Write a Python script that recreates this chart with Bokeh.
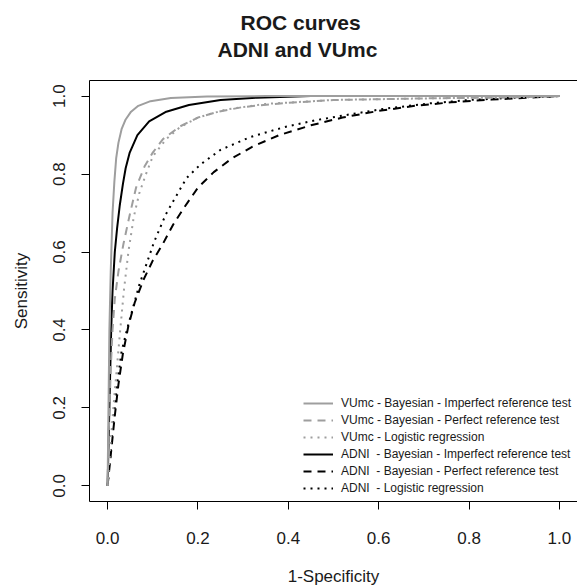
from bokeh.plotting import figure
from bokeh.models import (Range1d, FixedTicker, Legend, LegendItem, Title, LinearAxis,
                          NumeralTickFormatter)
from bokeh.embed import file_html
from bokeh.resources import INLINE

# ---- data ----
series_names = [
    "VUmc - Bayesian - Imperfect reference test",
    "VUmc - Bayesian - Perfect reference test",
    "VUmc - Logistic regression",
    "ADNI  - Bayesian - Imperfect reference test",
    "ADNI  - Bayesian - Perfect reference test",
    "ADNI  - Logistic regression",
]

vumc_imp_fpr = [0.0, 0.002, 0.004, 0.007, 0.011, 0.015, 0.019, 0.024, 0.031, 0.040, 0.052, 0.068, 0.095, 0.14, 0.22, 0.35, 1.0]
vumc_imp_tpr = [0.0, 0.20, 0.40, 0.55, 0.70, 0.78, 0.84, 0.88, 0.915, 0.94, 0.96, 0.975, 0.987, 0.995, 0.999, 1.0, 1.0]

vumc_perf_fpr = [0.0, 0.003, 0.007, 0.011, 0.016, 0.024, 0.035, 0.048, 0.063, 0.082, 0.10, 0.123, 0.16, 0.20, 0.245, 0.30, 0.39, 0.50, 0.70, 0.90, 1.0]
vumc_perf_tpr = [0.0, 0.15, 0.30, 0.40, 0.48, 0.55, 0.62, 0.69, 0.765, 0.82, 0.855, 0.89, 0.922, 0.945, 0.96, 0.972, 0.982, 0.99, 0.994, 0.997, 1.0]

vumc_log_fpr = [0.0, 0.006, 0.015, 0.028, 0.036, 0.046, 0.058, 0.070, 0.085, 0.10, 0.13, 0.16, 0.20, 0.26, 0.35, 0.50, 0.70, 0.90, 1.0]
vumc_log_tpr = [0.0, 0.10, 0.23, 0.40, 0.50, 0.60, 0.69, 0.75, 0.80, 0.845, 0.89, 0.92, 0.945, 0.965, 0.98, 0.99, 0.994, 0.997, 1.0]

adni_imp_fpr = [0.0, 0.004, 0.008, 0.011, 0.016, 0.021, 0.027, 0.034, 0.040, 0.049, 0.066, 0.092, 0.13, 0.18, 0.25, 0.33, 0.45, 1.0]
adni_imp_tpr = [0.0, 0.20, 0.40, 0.50, 0.60, 0.66, 0.72, 0.775, 0.815, 0.855, 0.90, 0.935, 0.96, 0.977, 0.99, 0.996, 1.0, 1.0]

adni_perf_fpr = [0.0, 0.008, 0.016, 0.024, 0.034, 0.046, 0.060, 0.080, 0.100, 0.122, 0.145, 0.170, 0.20, 0.235, 0.275, 0.32, 0.38, 0.45, 0.52, 0.60, 0.68, 0.76, 0.85, 0.93, 1.0]
adni_perf_tpr = [0.0, 0.09, 0.18, 0.26, 0.34, 0.41, 0.47, 0.53, 0.578, 0.62, 0.67, 0.715, 0.765, 0.805, 0.84, 0.87, 0.90, 0.925, 0.945, 0.962, 0.975, 0.984, 0.991, 0.996, 1.0]

adni_log_fpr = [0.0, 0.007, 0.014, 0.021, 0.031, 0.045, 0.07, 0.103, 0.129, 0.15, 0.175, 0.206, 0.25, 0.316, 0.39, 0.46, 0.536, 0.61, 0.71, 0.80, 0.90, 1.0]
adni_log_tpr = [0.0, 0.09, 0.18, 0.26, 0.345, 0.41, 0.515, 0.626, 0.697, 0.74, 0.79, 0.825, 0.862, 0.895, 0.92, 0.938, 0.953, 0.967, 0.981, 0.99, 0.996, 1.0]

tick_values = [0.0, 0.2, 0.4, 0.6, 0.8, 1.0]
title_lines = ["ROC curves", "ADNI and VUmc"]

FONT = "Liberation Sans"
TXT = "#1a1a1a"
GRAY = "#9e9e9e"

p = figure(width=577, height=588, output_backend="svg", toolbar_location=None,
           x_range=Range1d(-0.04, 1.04), y_range=Range1d(-0.04, 1.04),
           min_border_left=89, min_border_right=0, min_border_top=80, min_border_bottom=81)
p.outline_line_color = None
p.grid.visible = False
p.background_fill_color = "white"
p.border_fill_color = "white"

for ax in (p.xaxis[0], p.yaxis[0]):
    ax.ticker = FixedTicker(ticks=tick_values)
    ax.formatter = NumeralTickFormatter(format="0.0")
    ax.major_tick_out = 8
    ax.major_tick_in = 0
    ax.minor_tick_line_color = None
    ax.axis_line_color = "black"
    ax.major_tick_line_color = "black"
    ax.major_label_text_font = FONT
    ax.major_label_text_font_size = "17px"
    ax.major_label_text_color = TXT
    ax.axis_label_text_font = FONT
    ax.axis_label_text_font_size = "17px"
    ax.axis_label_text_font_style = "normal"
    ax.axis_label_text_color = TXT

p.xaxis[0].axis_label = "1-Specificity"
p.xaxis[0].major_label_standoff = 22
p.xaxis[0].axis_label_standoff = 20
p.yaxis[0].axis_label = "Sensitivity"
p.yaxis[0].major_label_orientation = "vertical"
p.yaxis[0].major_label_standoff = 16
p.yaxis[0].axis_label_standoff = 20

# top border of the box
top_axis = LinearAxis(ticker=FixedTicker(ticks=[]), major_tick_out=0, major_tick_in=0,
                      major_label_standoff=0, axis_line_color="black",
                      major_tick_line_color=None, minor_tick_line_color=None)
p.add_layout(top_axis, "above")

# curves (ADNI drawn first, VUmc on top)
r_ai = p.line(adni_imp_fpr, adni_imp_tpr, line_color="black", line_width=2)
r_ap = p.line(adni_perf_fpr, adni_perf_tpr, line_color="black", line_width=2, line_dash="8 6")
r_al = p.line(adni_log_fpr, adni_log_tpr, line_color="black", line_width=2, line_dash="2 5")
r_vi = p.line(vumc_imp_fpr, vumc_imp_tpr, line_color=GRAY, line_width=2)
r_vp = p.line(vumc_perf_fpr, vumc_perf_tpr, line_color=GRAY, line_width=2, line_dash="8 6")
r_vl = p.line(vumc_log_fpr, vumc_log_tpr, line_color=GRAY, line_width=2, line_dash="2 5")

renderers = [r_vi, r_vp, r_vl, r_ai, r_ap, r_al]
legend = Legend(items=[LegendItem(label=n, renderers=[r]) for n, r in zip(series_names, renderers)],
                location=(214, 6), padding=0, margin=0, spacing=3,
                glyph_width=30, glyph_height=14, label_height=14, label_standoff=8,
                label_text_font=FONT, label_text_font_size="12px", label_text_color=TXT,
                border_line_color=None, background_fill_alpha=0)
p.add_layout(legend, "center")

# two-line title (second line nearest the plot)
p.add_layout(Title(text=title_lines[1], align="left", offset=128, standoff=40,
                   text_font=FONT, text_font_size="21px", text_font_style="bold",
                   text_color=TXT), "above")
p.add_layout(Title(text=title_lines[0], align="left", offset=151, standoff=-36,
                   text_font=FONT, text_font_size="21px", text_font_style="bold",
                   text_color=TXT), "above")

open("out.html", "w").write(file_html(p, INLINE))
